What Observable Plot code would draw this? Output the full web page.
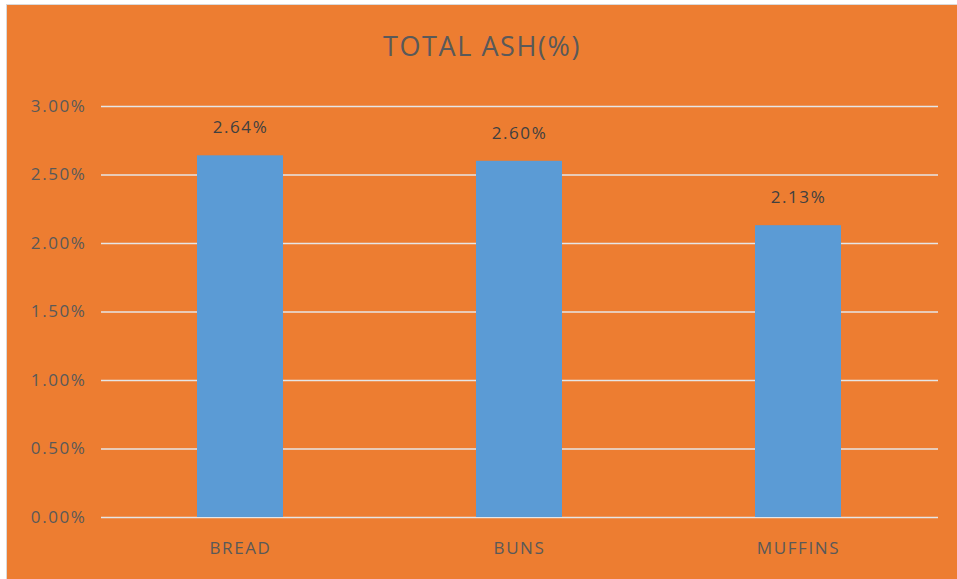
<!DOCTYPE html>
<html>
<head>
<meta charset="utf-8">
<script src="https://cdn.jsdelivr.net/npm/d3@7"></script>
<script src="https://cdn.jsdelivr.net/npm/@observablehq/plot@0.6"></script>
<style>
  html, body { margin: 0; padding: 0; background: #ffffff; overflow: hidden; }
  #frame {
    position: absolute; left: 6px; top: 4px; width: 960px; height: 600px;
    background: #ED7D31; border: 1px solid #d9d9d9; box-sizing: border-box;
    font-family: "Open Sans", Lato, sans-serif;
  }
  #title {
    height: 90px; line-height: 82px; text-align: center; width: 950px;
    font-size: 27px; color: #595959; letter-spacing: 1.6px;
  }
  #chart svg { display: block; }
  #chart svg text { letter-spacing: 1.6px; }
</style>
</head>
<body>
<div id="frame">
  <div id="title">TOTAL ASH(%)</div>
  <div id="chart"></div>
</div>
<script>
const categories = ["BREAD", "BUNS", "MUFFINS"];
const values = [0.0264, 0.0260, 0.0213];
const yTicks = [0, 0.005, 0.01, 0.015, 0.02, 0.025, 0.03];

const data = categories.map((c, i) => ({category: c, value: values[i]}));
const fmt = d3.format(".2%");

const plot = Plot.plot({
  width: 950,
  height: 484,
  marginLeft: 94,
  marginRight: 19,
  marginTop: 11,
  marginBottom: 62,
  style: {background: "transparent", fontFamily: "'Open Sans', Lato, sans-serif", fontSize: "17px", color: "#595959"},
  x: {domain: categories, paddingInner: 0.69, paddingOuter: 0.345, align: 0.5, label: null},
  y: {domain: [0, 0.03], label: null},
  marks: [
    Plot.gridY(yTicks, {stroke: "#e6e6e6", strokeOpacity: 1, strokeWidth: 1.3}),
    Plot.barY(data, {x: "category", y: "value", fill: "#5B9BD5"}),
    Plot.text(data, {x: "category", y: "value", text: d => fmt(d.value), dy: -28, fill: "#404040", fontSize: 17}),
    Plot.axisY({ticks: yTicks, tickFormat: fmt, tickSize: 0, tickPadding: 15, fill: "#595959", fontSize: 17}),
    Plot.axisX({tickSize: 0, tickPadding: 24, fill: "#595959", fontSize: 17})
  ]
});
document.getElementById("chart").appendChild(plot);
</script>
</body>
</html>
